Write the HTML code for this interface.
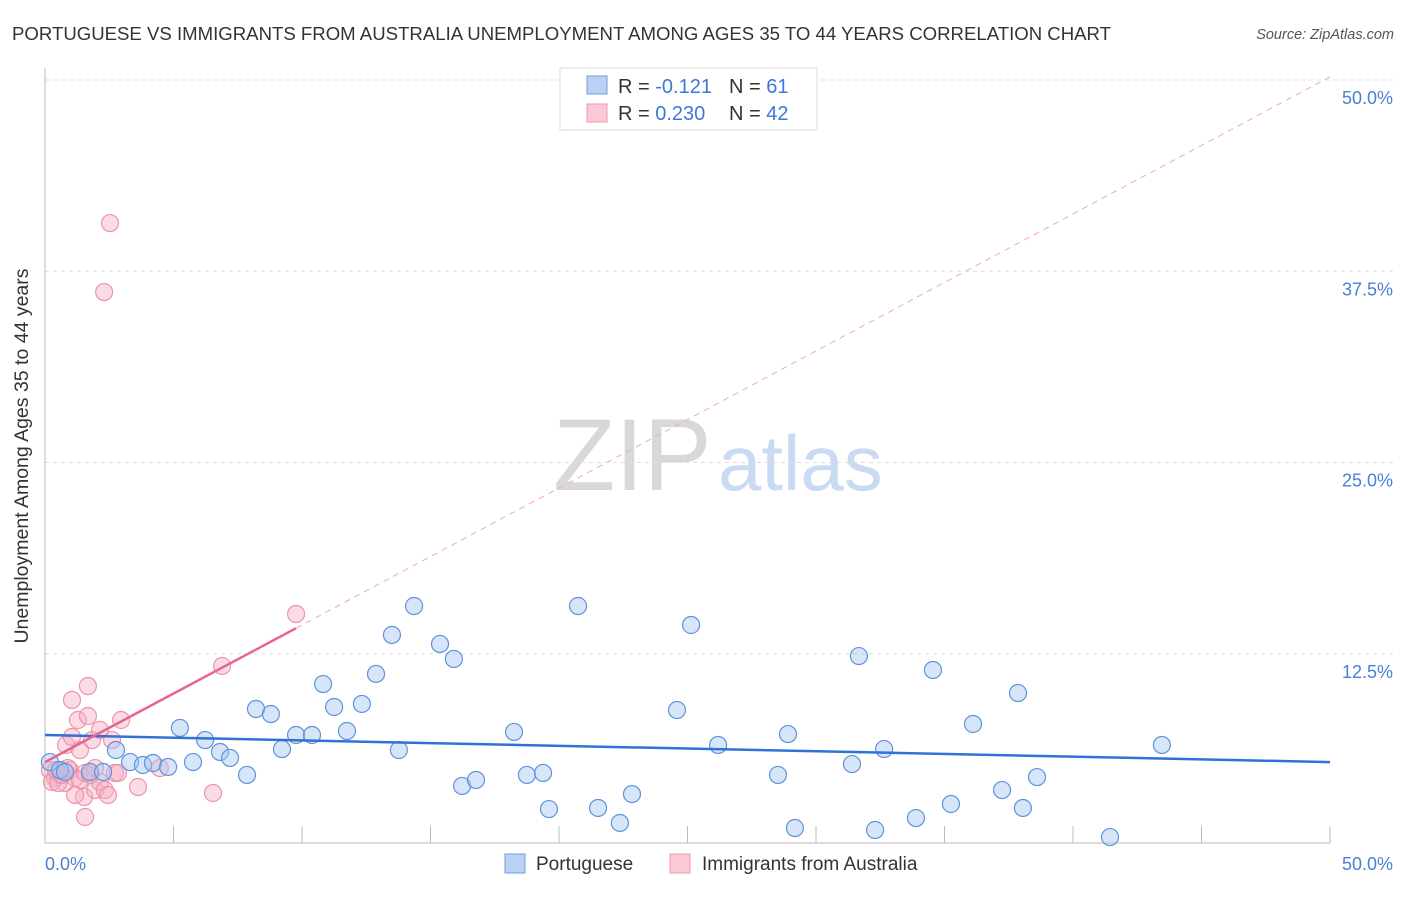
<!DOCTYPE html>
<html><head><meta charset="utf-8"><style>
body{margin:0;background:#fff;font-family:"Liberation Sans",sans-serif;}
svg text{font-family:"Liberation Sans",sans-serif;}
</style></head><body>
<svg width="1406" height="892" viewBox="0 0 1406 892">
<text x="12" y="40" font-size="18.6" fill="#333">PORTUGUESE VS IMMIGRANTS FROM AUSTRALIA UNEMPLOYMENT AMONG AGES 35 TO 44 YEARS CORRELATION CHART</text>
<text x="1394" y="39" font-size="14.5" fill="#555" font-style="italic" text-anchor="end">Source: ZipAtlas.com</text>
<g>
<text x="553" y="490" font-size="102" fill="#d8d8d8" font-family="Liberation Serif">ZIP</text>
<text x="718" y="490" font-size="78" fill="#c9daf2">atlas</text>
</g>
<g id="grid"></g>
<g id="axes"></g>
<g id="pts"></g>
<g id="trend"></g>
<text x="28" y="456" font-size="19.5" fill="#333" text-anchor="middle" transform="rotate(-90 28 456)">Unemployment Among Ages 35 to 44 years</text>
<text x="45" y="870" font-size="18" fill="#4a7fd4">0.0%</text>
<text x="1393" y="870" font-size="18" fill="#4a7fd4" text-anchor="end">50.0%</text>
<g>
<rect x="560" y="68" width="257" height="62" fill="#fff" stroke="#ddd"/>
<rect x="587" y="76" width="20" height="18" fill="#b9d2f3" stroke="#6f9ee0"/>
<rect x="587" y="104" width="20" height="18" fill="#fbc8d6" stroke="#ec9ab2"/>
<text x="618" y="93" font-size="20" fill="#333">R = <tspan fill="#3d78d8">-0.121</tspan></text>
<text x="729" y="93" font-size="20" fill="#333">N = <tspan fill="#3d78d8"> 61</tspan></text>
<text x="618" y="120" font-size="20" fill="#333">R = <tspan fill="#3d78d8">0.230</tspan></text>
<text x="729" y="120" font-size="20" fill="#333">N = <tspan fill="#3d78d8">42</tspan></text>
</g>
<g>
<rect x="505" y="854" width="20" height="19" fill="#b9d2f3" stroke="#6f9ee0"/>
<text x="536" y="870" font-size="19" fill="#333">Portuguese</text>
<rect x="670" y="854" width="20" height="19" fill="#fbc8d6" stroke="#ec9ab2"/>
<text x="702" y="870" font-size="19" fill="#333">Immigrants from Australia</text>
</g>
</svg>
<script>
const blueX=[0.19,0.58,0.78,1.75,2.26,2.76,3.31,3.81,4.20,4.79,5.25,5.76,6.23,6.81,7.20,7.86,8.21,8.79,9.22,9.77,10.39,10.82,11.25,11.75,12.33,12.88,13.50,13.77,14.36,15.37,15.91,16.23,16.77,18.25,18.75,19.38,19.61,20.74,21.52,22.37,22.84,24.59,25.14,26.19,28.52,28.91,29.18,31.40,31.67,32.30,32.65,33.89,34.55,35.25,36.11,37.24,37.86,38.05,38.60,41.44,43.46];
const blueY=[5.42,4.90,4.77,4.77,4.77,6.21,5.42,5.23,5.36,5.10,7.65,5.42,6.86,6.08,5.69,4.58,8.89,8.56,6.27,7.19,7.19,10.52,9.02,7.45,9.22,11.18,13.73,6.21,15.62,13.14,12.16,3.86,4.25,7.39,4.58,4.71,2.35,15.62,2.42,1.44,3.33,8.82,14.38,6.54,4.58,7.25,1.11,5.29,12.35,0.98,6.27,1.76,11.44,2.68,7.91,3.59,9.93,2.42,4.44,0.52,6.54];
const pinkX=[0.19,0.39,0.58,0.78,0.97,1.17,1.36,1.56,0.27,0.51,0.82,1.05,1.05,1.28,1.36,1.52,1.67,1.67,1.83,1.95,2.14,2.14,2.33,2.45,1.56,2.61,2.72,2.84,2.96,3.62,4.47,6.54,6.89,9.77,2.30,2.53,1.17,1.75,0.66,0.43,0.89,1.95];
const pinkY=[4.90,4.38,4.58,4.05,4.90,4.38,4.25,4.71,4.12,4.05,6.54,9.48,7.06,8.17,6.21,3.14,8.43,10.39,6.86,3.59,7.52,4.12,3.59,3.27,1.83,6.86,4.71,4.71,8.17,3.79,5.03,3.40,11.70,15.10,36.14,40.65,3.27,4.58,4.58,4.90,5.03,5.03];
const yTicks=[12.5,25,37.5,50];
const yTickLabels=["12.5%","25.0%","37.5%","50.0%"];
const xTicks=[0,5,10,15,20,25,30,35,40,45,50];
const blueTrend=[7.19,5.42];
const pinkTrend=[5.42,50.2];
const pinkSolidEnd=9.77;

const NS="http://www.w3.org/2000/svg";
const sx=v=>45+v*25.7, sy=v=>845-v*15.3;
function mk(t,a,p){const e=document.createElementNS(NS,t);for(const k in a)e.setAttribute(k,a[k]);p.appendChild(e);return e;}
const grid=document.getElementById('grid'),axes=document.getElementById('axes'),pts=document.getElementById('pts'),trend=document.getElementById('trend');
yTicks.forEach((v,i)=>{
 const l=mk('line',{x1:45,x2:1394,y1:sy(v),y2:sy(v),stroke:'#ddd','stroke-dasharray':'4,4'},grid);
 
 
 const t=mk('text',{x:1393,y:sy(v)+24,'font-size':18,fill:'#4a7fd4','text-anchor':'end'},grid);
 t.textContent=yTickLabels[i];
 
 
});
let a=mk('line',{x1:45,x2:45,y1:68,y2:843,stroke:'#bbb'},axes);


a=mk('line',{x1:45,x2:1330,y1:843,y2:843,stroke:'#bbb'},axes);


xTicks.forEach(v=>{
 const l=mk('line',{x1:sx(v),x2:sx(v),y1:826,y2:843,stroke:'#bbb'},axes);
 
 
});
function dots(X,Y,fill,stroke,name){X.forEach((x,i)=>{
 const c=mk('circle',{cx:sx(x),cy:sy(Y[i]),r:8.5,fill:fill,stroke:stroke,'stroke-width':1.2},pts);
 
 
});}
dots(pinkX,pinkY,'rgba(246,175,196,0.45)','#ec94ae','point-australia');
dots(blueX,blueY,'rgba(165,198,240,0.45)','#5f93dc','point-portuguese');
let t=mk('line',{x1:sx(0),y1:sy(blueTrend[0]),x2:sx(50),y2:sy(blueTrend[1]),stroke:'#2f72d6','stroke-width':2.5},trend);


const py=v=>pinkTrend[0]+(pinkTrend[1]-pinkTrend[0])*v/50;
t=mk('line',{x1:sx(0),y1:sy(py(0)),x2:sx(pinkSolidEnd),y2:sy(py(pinkSolidEnd)),stroke:'#e8648f','stroke-width':2.5},trend);


t=mk('line',{x1:sx(pinkSolidEnd),y1:sy(py(pinkSolidEnd)),x2:sx(50),y2:sy(py(50)),stroke:'#eeaabd','stroke-width':1,'stroke-dasharray':'6,5'},trend);


</script>
</body></html>
